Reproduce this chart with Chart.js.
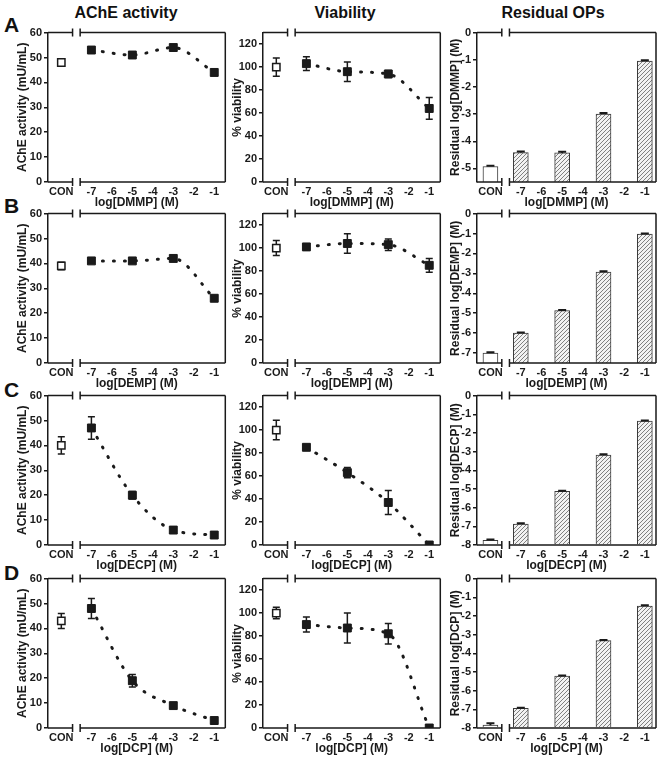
<!DOCTYPE html>
<html>
<head>
<meta charset="utf-8">
<script src="https://cdn.jsdelivr.net/npm/chart.js@4.4.0/dist/chart.umd.min.js"></script>
<style>
  body { margin: 0; background: #fff; font-family: 'Liberation Sans', Arial, sans-serif; }
  #fig { position: relative; width: 660px; height: 762px; overflow: hidden; }
  #fig canvas, .lbl { position: absolute; }
  .head { font-weight: bold; font-size: 16px; line-height: 16px; color: #111; transform: translateX(-50%); white-space: nowrap; }
  .letter { font-weight: bold; font-size: 21px; line-height: 21px; color: #111; }
</style>
</head>
<body>
<div id="fig"></div>
<script>
// --- data ---
const compounds = ['DMMP', 'DEMP', 'DECP', 'DCP'];
const letters = ['A', 'B', 'C', 'D'];
const conX = -8.47;               // where the CON group sits on the x axis
const doseX = [-7, -5, -3, -1];
const doseTicks = [-7, -6, -5, -4, -3, -2, -1];
const breakAt = [-7.92, -7.55];

// AChE activity (mU/mL)
const acheCon = [48, 39, 40, 43];
const acheConErr = [1.5, 1.5, 3.5, 3];
const acheMean = [[53, 51, 54, 44], [41, 41, 42, 26], [47, 20, 6, 4], [48, 19, 9, 3]];
const acheErr = [[1, 1, 1, 1.2], [1, 1, 1, 1], [4.5, 1.5, 1, 1], [4, 2.5, 1, 1]];
const acheTicks = [0, 10, 20, 30, 40, 50, 60];

// % viability
const viaCon = [100, 100, 100, 100];
const viaConErr = [8, 6.5, 8.5, 5];
const viaMean = [[103, 96, 94, 64], [101, 104, 103, 85], [85, 63, 37, 0], [90, 87, 82, 0]];
const viaErr = [[6, 8.5, 3, 9.5], [2, 8.5, 5, 6], [2, 4.5, 10.5, 0], [6.5, 13, 9, 0]];
const viaTicks = [0, 20, 40, 60, 80, 100, 120];

// residual log[OP] (M)
const resCon = [-4.93, -7.0, -7.75, -7.85];
const resConErr = [0.03, 0.04, 0.05, 0.1];
const resMean = [[-4.42, -4.43, -3.0, -1.05], [-6.0, -4.87, -2.93, -1.03], [-6.88, -5.13, -3.18, -1.37], [-6.95, -5.22, -3.32, -1.47]];
const resErr = [[0.04, 0.04, 0.04, 0.03], [0.03, 0.03, 0.03, 0.03], [0.04, 0.03, 0.04, 0.04], [0.03, 0.03, 0.03, 0.04]];
const resMin = [-5.5, -7.5, -8, -8];

// --- layout ---
const rowTop = [32, 213, 395, 578];
const cols = [
  { left: 0, axisW: 48, titleC: 23 },
  { left: 220, axisW: 43, titleC: 18 },
  { left: 440, axisW: 37, titleC: 16 }
];
const areaW = 179, areaH = 150, padTop = 8, padRight = 5, xAxisH = 34;
const ink = '#1a1a1a';

Chart.defaults.font.family = "'Liberation Sans', Arial, sans-serif";
Chart.defaults.font.weight = 'bold';
Chart.defaults.color = ink;

const fig = document.getElementById('fig');

function addLabel(text, cls, left, top) {
  const d = document.createElement('div');
  d.className = 'lbl ' + cls;
  d.textContent = text;
  d.style.left = left + 'px';
  d.style.top = top + 'px';
  fig.appendChild(d);
}
addLabel('AChE activity', 'head', 126, 5);
addLabel('Viability', 'head', 345, 5);
addLabel('Residual OPs', 'head', 553, 5);
[14, 195, 379, 562].forEach((t, i) => addLabel(letters[i], 'letter', 4, t));

function hatch() {
  const c = document.createElement('canvas');
  c.width = 4; c.height = 4;
  const g = c.getContext('2d');
  g.fillStyle = '#f2f2f2';
  g.fillRect(0, 0, 4, 4);
  g.strokeStyle = '#808080';
  g.lineWidth = 1;
  g.beginPath();
  g.moveTo(0, 4); g.lineTo(4, 0);
  g.moveTo(-1, 1); g.lineTo(1, -1);
  g.moveTo(3, 5); g.lineTo(5, 3);
  g.stroke();
  return g.createPattern(c, 'repeat');
}
const hatchFill = hatch();

function drawErrors(chart, barMode) {
  const { ctx, scales: { x, y } } = chart;
  ctx.save();
  ctx.strokeStyle = ink;
  ctx.lineWidth = barMode ? 2 : 1.5;
  chart.data.datasets.forEach(ds => {
    if (!ds.errors) return;
    ds.data.forEach((p, i) => {
      const e = ds.errors[i];
      if (!e) return;
      const px = x.getPixelForValue(p.x);
      const top = y.getPixelForValue(p.y + e);
      const bot = y.getPixelForValue(barMode ? p.y : p.y - e);
      const cap = barMode ? 4 : 3.5;
      ctx.beginPath();
      ctx.moveTo(px, top); ctx.lineTo(px, bot);
      ctx.moveTo(px - cap, top); ctx.lineTo(px + cap, top);
      if (!barMode) { ctx.moveTo(px - cap, bot); ctx.lineTo(px + cap, bot); }
      ctx.stroke();
    });
  });
  ctx.restore();
}

const errorBars = {
  id: 'errorBars',
  beforeDatasetsDraw(chart) { if (chart.config.type === 'line') drawErrors(chart, false); },
  afterDatasetsDraw(chart) { if (chart.config.type === 'bar') drawErrors(chart, true); }
};

const brokenFrame = {
  id: 'brokenFrame',
  afterDraw(chart) {
    const { ctx, chartArea: a, scales: { x } } = chart;
    const b1 = x.getPixelForValue(breakAt[0]);
    const b2 = x.getPixelForValue(breakAt[1]);
    ctx.save();
    ctx.strokeStyle = ink;
    ctx.lineWidth = 1.5;
    ctx.beginPath();
    [a.top, a.bottom].forEach(yy => {
      ctx.moveTo(a.left, yy); ctx.lineTo(b1, yy);
      ctx.moveTo(b2, yy); ctx.lineTo(a.right, yy);
      ctx.moveTo(b1, yy - 4); ctx.lineTo(b1, yy + 4);
      ctx.moveTo(b2, yy - 4); ctx.lineTo(b2, yy + 4);
    });
    ctx.moveTo(a.right, a.top); ctx.lineTo(a.right, a.bottom);
    ctx.stroke();
    ctx.restore();
  }
};

function scalesFor(col, r, yMin, yMax, yTicks, yTitle) {
  return {
    x: {
      type: 'linear', min: -9.12, max: -0.46, offset: false,
      afterBuildTicks: s => { s.ticks = [{ value: conX }].concat(doseTicks.map(v => ({ value: v }))); },
      afterFit: s => { s.height = xAxisH; },
      ticks: {
        autoSkip: false, maxRotation: 0, padding: 3, font: { size: 11, weight: 'bold' },
        callback: v => (v === conX ? 'CON' : String(v))
      },
      grid: { display: true, drawOnChartArea: false, drawTicks: false, offset: false },
      border: { display: false },
      title: { display: true, text: 'log[' + compounds[r] + '] (M)', font: { size: 12, weight: 'bold' }, padding: { top: 0, bottom: 6 } }
    },
    y: {
      min: yMin, max: yMax,
      afterBuildTicks: s => { s.ticks = yTicks.map(v => ({ value: v })); },
      afterFit: s => { s.width = col.axisW; },
      ticks: { padding: 2, font: { size: 11, weight: 'bold' } },
      grid: { drawOnChartArea: false, drawTicks: true, tickLength: 4, color: ink, lineWidth: 1.5 },
      border: { display: true, color: ink, width: 1.5 },
      title: { display: true, text: yTitle, font: { size: 12, weight: 'bold' }, padding: { top: col.titleC - 7.2, bottom: 0 } }
    }
  };
}

function makeCanvas(c, r) {
  const col = cols[c];
  const cv = document.createElement('canvas');
  cv.width = col.axisW + areaW + padRight;
  cv.height = padTop + areaH + xAxisH;
  cv.style.left = col.left + 'px';
  cv.style.top = (rowTop[r] - padTop) + 'px';
  fig.appendChild(cv);
  return cv;
}

function commonOptions(c, r, yMin, yMax, yTicks, yTitle) {
  return {
    responsive: false,
    animation: false,
    layout: { padding: { top: padTop, right: padRight, left: 0, bottom: 0 } },
    plugins: { legend: { display: false }, tooltip: { enabled: false } },
    scales: scalesFor(cols[c], r, yMin, yMax, yTicks, yTitle)
  };
}

function doseChart(c, r, con, conErr, mean, err, yMax, yTicks, yTitle) {
  new Chart(makeCanvas(c, r), {
    type: 'line',
    data: {
      datasets: [
        {
          data: doseX.map((x, i) => ({ x: x, y: mean[r][i] })),
          errors: err[r],
          borderColor: ink, borderWidth: 3, borderDash: [1, 10], borderCapStyle: 'round',
          cubicInterpolationMode: 'monotone',
          pointStyle: 'rect', pointRadius: 5.6, pointBackgroundColor: ink, pointBorderColor: ink, pointBorderWidth: 1
        },
        {
          data: [{ x: conX, y: con[r] }],
          errors: [conErr[r]],
          showLine: false,
          pointStyle: 'rect', pointRadius: 5.2, pointBackgroundColor: '#fff', pointBorderColor: ink, pointBorderWidth: 1.5
        }
      ]
    },
    options: commonOptions(c, r, 0, yMax, yTicks, yTitle),
    plugins: [errorBars, brokenFrame]
  });
}

function residualChart(r) {
  const ticks = [];
  for (let v = 0; v >= resMin[r]; v--) ticks.push(v);
  const pts = [{ x: conX, y: resCon[r] }].concat(doseX.map((x, i) => ({ x: x, y: resMean[r][i] })));
  new Chart(makeCanvas(2, r), {
    type: 'bar',
    data: {
      datasets: [{
        data: pts,
        errors: [resConErr[r]].concat(resErr[r]),
        base: resMin[r],
        barThickness: 15,
        backgroundColor: ['#fff', hatchFill, hatchFill, hatchFill, hatchFill],
        borderColor: '#3a3a3a',
        borderWidth: 1
      }]
    },
    options: commonOptions(2, r, resMin[r], 0, ticks, 'Residual log[' + compounds[r] + '] (M)'),
    plugins: [errorBars, brokenFrame]
  });
}

for (let r = 0; r < 4; r++) {
  doseChart(0, r, acheCon, acheConErr, acheMean, acheErr, 60, acheTicks, 'AChE activity (mU/mL)');
  doseChart(1, r, viaCon, viaConErr, viaMean, viaErr, 130, viaTicks, '% viability');
  residualChart(r);
}
</script>
</body>
</html>
